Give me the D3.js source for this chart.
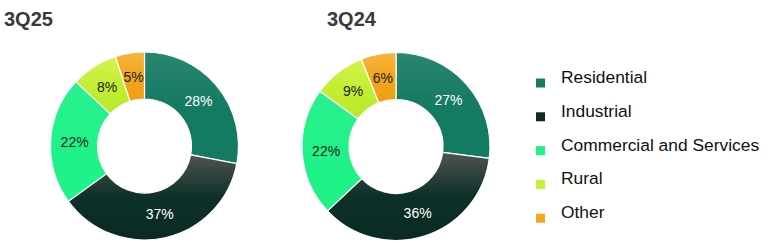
<!DOCTYPE html>
<html><head><meta charset="utf-8">
<script src="https://cdn.jsdelivr.net/npm/d3@7"></script>
<style>body{margin:0;background:#fff}svg{display:block}</style>
</head><body>
<script>
const categories = ["Residential","Industrial","Commercial and Services","Rural","Other"];
const values3Q25 = [28,37,22,8,5];
const values3Q24 = [27,36,22,9,6];
const periods = ["3Q25","3Q24"];
const colorsTop = ["#2a8670","#4f5451","#2af08f","#d6f24c","#f7b540"];
const colorsMid = ["#147a61","#0d3028","#20f289","#c2ee33","#f2a41e"];
const colorsBot = ["#147a61","#0a2a22","#1ff289","#b6ea28","#ef9f10"];
const legendColors = ["#1a7a5f","#122c24","#23ef8b","#c4ef3a","#f5a623"];
const labelColors = ["#fff","#fff","#222","#222","#222"];

const W=770,H=244;
const svg=d3.select("body").append("svg").attr("width",W).attr("height",H);
const defs=svg.append("defs");
categories.forEach((c,i)=>{
  const g=defs.append("linearGradient").attr("id","g"+i).attr("x1",0).attr("y1",0).attr("x2",0).attr("y2",1);
  g.append("stop").attr("offset","0%").attr("stop-color",colorsTop[i]);
  g.append("stop").attr("offset","50%").attr("stop-color",colorsMid[i]);
  g.append("stop").attr("offset","100%").attr("stop-color",colorsBot[i]);
});

const pies=[{title:periods[0],vals:values3Q25,cx:144.5,cy:146,tx:4},{title:periods[1],vals:values3Q24,cx:396,cy:146.5,tx:327}];
const R=94,r=47;
const pie=d3.pie().sort(null).value(d=>d);
const arc=d3.arc().innerRadius(r).outerRadius(R);
const lab=d3.arc().innerRadius(70).outerRadius(70);

pies.forEach(p=>{
  svg.append("text").attr("x",p.tx).attr("y",26).text(p.title)
    .attr("font-family","Liberation Sans, Arial, sans-serif").attr("font-weight","bold")
    .attr("font-size",20).attr("fill","#3a3a3a");
  const g=svg.append("g").attr("transform",`translate(${p.cx},${p.cy})`);
  const arcs=pie(p.vals);
  g.selectAll("path").data(arcs).join("path").attr("d",arc)
    .attr("fill",(d,i)=>`url(#g${i})`).attr("stroke","#fff").attr("stroke-width",1.2);
  g.selectAll("text").data(arcs).join("text")
    .attr("transform",d=>`translate(${lab.centroid(d)})`)
    .attr("text-anchor","middle").attr("dy","0.35em")
    .attr("font-family","Liberation Sans, Arial, sans-serif").attr("font-size",14)
    .attr("fill",(d,i)=>labelColors[i]).text(d=>d.data+"%");
});

const leg=svg.append("g");
categories.forEach((c,i)=>{
  const y=77+i*33.8;
  leg.append("rect").attr("x",536).attr("y",y+1.5).attr("width",9).attr("height",9).attr("fill",legendColors[i]);
  leg.append("text").attr("x",561).attr("y",y).attr("dy","0.35em").text(c)
    .attr("font-family","Liberation Sans, Arial, sans-serif").attr("font-size",17.4).attr("fill","#111");
});
</script>
</body></html>
